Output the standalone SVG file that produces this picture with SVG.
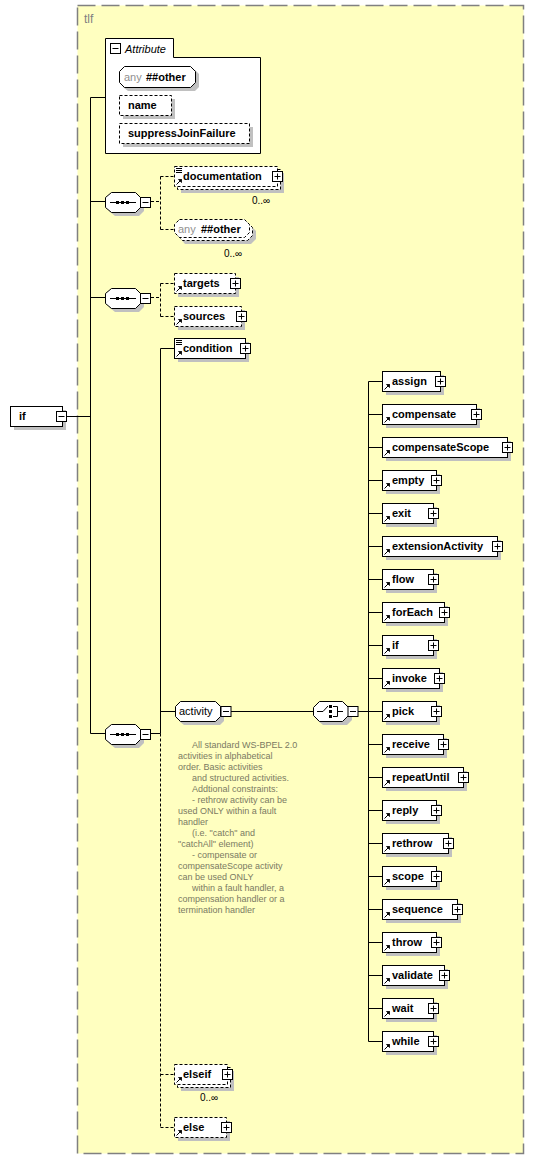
<svg xmlns="http://www.w3.org/2000/svg" width="534" height="1159" viewBox="0 0 534 1159">
<defs>
<style>
.bg{fill:#ffffc0;stroke:#808080;stroke-width:1.5;stroke-dasharray:18 6}
.box{fill:#fff;stroke:#000;stroke-width:1}
.opt{fill:#fff;stroke:#000;stroke-width:1;stroke-dasharray:3 2}
.sh{fill:#c0c0c0;stroke:none}
.ln{stroke:#000;stroke-width:1;fill:none}
.dl{stroke:#000;stroke-width:1;fill:none;stroke-dasharray:3 2}
.t{font-family:"Liberation Sans",Arial,sans-serif;font-size:11px;font-weight:bold;fill:#000}
.tn{font-family:"Liberation Sans",Arial,sans-serif;font-size:11px;fill:#000}
.g{font-family:"Liberation Sans",Arial,sans-serif;font-size:11px;fill:#909090}
.occ{font-family:"Liberation Sans",Arial,sans-serif;font-size:10px;fill:#000}
.ann{font-family:"Liberation Sans",Arial,sans-serif;font-size:9px;fill:#7a7a62}
.ttl{font-family:"Liberation Sans",Arial,sans-serif;font-size:12px;fill:#808080}
</style>
<g id="plus"><rect x="-5" y="-5" width="10" height="10" fill="#fff" stroke="#000"/><path d="M-3 0H3M0 -3V3" stroke="#000"/></g>
<g id="minus"><rect x="-5" y="-5" width="10" height="10" fill="#fff" stroke="#000"/><path d="M-3 0H3" stroke="#000"/></g>
<g id="arr"><path d="M0 0L5 -5" stroke="#000" stroke-width="1"/><path d="M2 -5H5V-2Z" fill="#000" stroke="#000" stroke-width="0.8"/></g>
<g id="doc"><path d="M0 0.5H6M0 2.5H6M0 4.5H6" stroke="#000" stroke-width="1"/></g>
</defs>
<rect class="bg" x="77.5" y="5.5" width="446" height="1148"/>
<text class="ttl" x="84" y="23">tlf</text>

<g id="connectors">
<path class="ln" d="M67 416.5H90.5M90.5 97.5V733.5M90.5 97.5H105M90.5 201.5H105M90.5 297.5H105M90.5 733.5H105"/>
<path class="dl" d="M151 201.5H160.5M160.5 176.5V229.5M160.5 176.5H174M160.5 229.5H174"/>
<path class="dl" d="M151 297.5H160.5M160.5 283.5V316.5M160.5 283.5H174M160.5 316.5H174"/>
<path class="ln" d="M151 733.5H160.5M160.5 348.5V733.5M160.5 348.5H174M160.5 711.5H175"/>
<path class="dl" d="M160.5 733.5V1127.5M160.5 1074.5H174M160.5 1127.5H174"/>
<path class="ln" d="M231 711.5H313M358 711.5H368.5M368.5 381.5V1041.5"/>
<path class="ln" d="M368.5 381.5H382M368.5 414.5H382M368.5 447.5H382M368.5 480.5H382M368.5 513.5H382M368.5 546.5H382M368.5 579.5H382M368.5 612.5H382M368.5 645.5H382M368.5 678.5H382M368.5 711.5H382M368.5 744.5H382M368.5 777.5H382M368.5 810.5H382M368.5 843.5H382M368.5 876.5H382M368.5 909.5H382M368.5 942.5H382M368.5 975.5H382M368.5 1008.5H382M368.5 1041.5H382"/>
</g>

<g id="node-if">
<rect class="sh" x="14" y="410" width="52" height="20"/>
<rect class="box" x="10.5" y="406.5" width="52" height="20"/>
<text class="t" x="19" y="420">if</text>
<use href="#minus" x="61.5" y="416.5"/>
</g>

<g id="node-attributes">
<path class="box" d="M105.5 153.5V38.5H173.5V57.5H260.5V153.5Z"/>
<use href="#minus" x="115.5" y="48.5"/>
<text x="125" y="53" style="font-family:'Liberation Sans',Arial,sans-serif;font-size:11px;font-style:italic">Attribute</text>
<path class="sh" d="M128 70H195L199 74V87L195 91H128L123 87V74Z"/>
<path class="box" d="M124.5 66.5H190.5L195.5 71.5V82.5L190.5 87.5H124.5L119.5 82.5V71.5Z"/>
<text class="g" x="124" y="81">any</text><text class="t" x="146" y="81">##other</text>
<rect class="sh" x="123" y="99" width="52" height="20"/>
<rect class="opt" x="119.5" y="95.5" width="52" height="20"/>
<text class="t" x="128" y="109">name</text>
<rect class="sh" x="123" y="127" width="130" height="20"/>
<rect class="opt" x="119.5" y="123.5" width="130" height="20"/>
<text class="t" x="128" y="137">suppressJoinFailure</text>
</g>

<g id="node-seq1">
<path class="sh" d="M115 196H139L144 201V211L139 216H115L109 211V201Z"/>
<path class="box" d="M111.5 192.5H135.5L140.5 197.5V207.5L135.5 212.5H111.5L105.5 207.5V197.5Z"/>
<path d="M110 202.5H136" stroke="#000"/><rect x="116" y="201" width="3" height="3"/><rect x="121" y="201" width="3" height="3"/><rect x="126" y="201" width="3" height="3"/>
<use href="#minus" x="145.5" y="202.5"/>
</g>
<g id="node-seq2">
<path class="sh" d="M115 292H139L144 297V307L139 312H115L109 307V297Z"/>
<path class="box" d="M111.5 288.5H135.5L140.5 293.5V303.5L135.5 308.5H111.5L105.5 303.5V293.5Z"/>
<path d="M110 298.5H136" stroke="#000"/><rect x="116" y="297" width="3" height="3"/><rect x="121" y="297" width="3" height="3"/><rect x="126" y="297" width="3" height="3"/>
<use href="#minus" x="145.5" y="298.5"/>
</g>
<g id="node-seq3">
<path class="sh" d="M115 728H139L144 733V743L139 748H115L109 743V733Z"/>
<path class="box" d="M111.5 724.5H135.5L140.5 729.5V739.5L135.5 744.5H111.5L105.5 739.5V729.5Z"/>
<path d="M110 734.5H136" stroke="#000"/><rect x="116" y="733" width="3" height="3"/><rect x="121" y="733" width="3" height="3"/><rect x="126" y="733" width="3" height="3"/>
<use href="#minus" x="145.5" y="734.5"/>
</g>

<g id="node-documentation">
<rect class="sh" x="181" y="173" width="103" height="20"/>
<rect class="opt" x="177.5" y="169.5" width="103" height="20"/>
<rect class="opt" x="174.5" y="166.5" width="103" height="20"/>
<use href="#doc" x="176" y="168"/>
<use href="#arr" x="176.5" y="184.5"/>
<text class="t" x="183" y="180">documentation</text>
<use href="#plus" x="277.5" y="176.5"/>
<text class="occ" x="252" y="204">0..∞</text>
</g>

<g id="node-any-other">
<path class="sh" d="M185 226H251L256 231V239L251 244H185L181 239V231Z"/>
<path class="opt" d="M182.5 222.5H247.5L252.5 227.5V235.5L247.5 240.5H182.5L177.5 235.5V227.5Z"/>
<path class="opt" d="M179.5 219.5H244.5L249.5 224.5V232.5L244.5 237.5H179.5L174.5 232.5V224.5Z"/>
<text class="g" x="178" y="233">any</text><text class="t" x="201" y="233">##other</text>
<text class="occ" x="224" y="257">0..∞</text>
</g>

<g id="node-targets">
<rect class="sh" x="178" y="277" width="61" height="20"/>
<rect class="opt" x="174.5" y="273.5" width="61" height="20"/>
<use href="#arr" x="176.5" y="291.5"/>
<text class="t" x="183" y="287">targets</text>
<use href="#plus" x="235.5" y="283.5"/>
</g>
<g id="node-sources">
<rect class="sh" x="178" y="310" width="67" height="20"/>
<rect class="opt" x="174.5" y="306.5" width="67" height="20"/>
<use href="#arr" x="176.5" y="324.5"/>
<text class="t" x="183" y="320">sources</text>
<use href="#plus" x="241.5" y="316.5"/>
</g>
<g id="node-condition">
<rect class="sh" x="178" y="342" width="71" height="20"/>
<rect class="box" x="174.5" y="338.5" width="71" height="20"/>
<use href="#doc" x="176" y="340"/>
<use href="#arr" x="176.5" y="356.5"/>
<text class="t" x="183" y="352">condition</text>
<use href="#plus" x="245.5" y="348.5"/>
</g>

<g id="node-activity">
<path class="sh" d="M184 705H220L224 709V721L220 725H184L179 721V709Z"/>
<path class="box" d="M180.5 701.5H215.5L220.5 706.5V716.5L215.5 721.5H180.5L175.5 716.5V706.5Z"/>
<text class="tn" x="179" y="715">activity</text>
<use href="#minus" x="226" y="711.5"/>
</g>
<g id="node-choice">
<path class="sh" d="M323 705H347L352 710V720L347 725H323L317 720V710Z"/>
<path class="box" d="M319.5 701.5H342.5L348.5 707.5V715.5L342.5 721.5H319.5L313.5 715.5V707.5Z"/>
<path d="M317 711.5H323L328 706M333 706.5H337.5V716.5H333M337.5 711.5H343" stroke="#000" fill="none"/>
<rect x="329" y="705" width="3" height="3"/><rect x="329" y="710" width="3" height="3"/><rect x="329" y="715" width="3" height="3"/>
<use href="#minus" x="353" y="711.5"/>
</g>

<g id="annotation" class="ann">
<text x="192" y="748">All standard WS-BPEL 2.0</text>
<text x="178" y="759">activities in alphabetical</text>
<text x="178" y="770">order. Basic activities</text>
<text x="192" y="781">and structured activities.</text>
<text x="192" y="792">Addtional constraints:</text>
<text x="192" y="803">- rethrow activity can be</text>
<text x="178" y="814">used ONLY within a fault</text>
<text x="178" y="825">handler</text>
<text x="192" y="836">(i.e. "catch" and</text>
<text x="178" y="847">"catchAll" element)</text>
<text x="192" y="858">- compensate or</text>
<text x="178" y="869">compensateScope activity</text>
<text x="178" y="880">can be used ONLY</text>
<text x="192" y="891">within a fault handler, a</text>
<text x="178" y="902">compensation handler or a</text>
<text x="178" y="913">termination handler</text>
</g>

<g id="node-elseif">
<rect class="sh" x="181" y="1071" width="53" height="20"/>
<rect class="opt" x="177.5" y="1067.5" width="53" height="20"/>
<rect class="opt" x="174.5" y="1064.5" width="53" height="20"/>
<use href="#arr" x="176.5" y="1082.5"/>
<text class="t" x="183" y="1078">elseif</text>
<use href="#plus" x="227.5" y="1074.5"/>
<text class="occ" x="200" y="1101">0..∞</text>
</g>
<g id="node-else">
<rect class="sh" x="178" y="1121" width="52" height="20"/>
<rect class="opt" x="174.5" y="1117.5" width="52" height="20"/>
<use href="#arr" x="176.5" y="1135.5"/>
<text class="t" x="183" y="1131">else</text>
<use href="#plus" x="226.5" y="1127.5"/>
</g>

<g id="node-assign"><rect class="sh" x="386" y="375" width="58" height="20"/><rect class="box" x="382.5" y="371.5" width="58" height="20"/><use href="#arr" x="384.5" y="389.5"/><text class="t" x="392" y="385">assign</text><use href="#plus" x="440.5" y="381.5"/></g>
<g id="node-compensate"><rect class="sh" x="386" y="408" width="94" height="20"/><rect class="box" x="382.5" y="404.5" width="94" height="20"/><use href="#arr" x="384.5" y="422.5"/><text class="t" x="392" y="418">compensate</text><use href="#plus" x="476.5" y="414.5"/></g>
<g id="node-compensateScope"><rect class="sh" x="386" y="441" width="125" height="20"/><rect class="box" x="382.5" y="437.5" width="125" height="20"/><use href="#arr" x="384.5" y="455.5"/><text class="t" x="392" y="451">compensateScope</text><use href="#plus" x="507.5" y="447.5"/></g>
<g id="node-empty"><rect class="sh" x="386" y="474" width="54" height="20"/><rect class="box" x="382.5" y="470.5" width="54" height="20"/><use href="#arr" x="384.5" y="488.5"/><text class="t" x="392" y="484">empty</text><use href="#plus" x="436.5" y="480.5"/></g>
<g id="node-exit"><rect class="sh" x="386" y="507" width="51" height="20"/><rect class="box" x="382.5" y="503.5" width="51" height="20"/><use href="#arr" x="384.5" y="521.5"/><text class="t" x="392" y="517">exit</text><use href="#plus" x="433.5" y="513.5"/></g>
<g id="node-extensionActivity"><rect class="sh" x="386" y="540" width="115" height="20"/><rect class="box" x="382.5" y="536.5" width="115" height="20"/><use href="#arr" x="384.5" y="554.5"/><text class="t" x="392" y="550">extensionActivity</text><use href="#plus" x="497.5" y="546.5"/></g>
<g id="node-flow"><rect class="sh" x="386" y="573" width="51" height="20"/><rect class="box" x="382.5" y="569.5" width="51" height="20"/><use href="#arr" x="384.5" y="587.5"/><text class="t" x="392" y="583">flow</text><use href="#plus" x="433.5" y="579.5"/></g>
<g id="node-forEach"><rect class="sh" x="386" y="606" width="62" height="20"/><rect class="box" x="382.5" y="602.5" width="62" height="20"/><use href="#arr" x="384.5" y="620.5"/><text class="t" x="392" y="616">forEach</text><use href="#plus" x="444.5" y="612.5"/></g>
<g id="node-if2"><rect class="sh" x="386" y="639" width="51" height="20"/><rect class="box" x="382.5" y="635.5" width="51" height="20"/><use href="#arr" x="384.5" y="653.5"/><text class="t" x="392" y="649">if</text><use href="#plus" x="433.5" y="645.5"/></g>
<g id="node-invoke"><rect class="sh" x="386" y="672" width="57" height="20"/><rect class="box" x="382.5" y="668.5" width="57" height="20"/><use href="#arr" x="384.5" y="686.5"/><text class="t" x="392" y="682">invoke</text><use href="#plus" x="439.5" y="678.5"/></g>
<g id="node-pick"><rect class="sh" x="386" y="705" width="54" height="20"/><rect class="box" x="382.5" y="701.5" width="54" height="20"/><use href="#arr" x="384.5" y="719.5"/><text class="t" x="392" y="715">pick</text><use href="#plus" x="436.5" y="711.5"/></g>
<g id="node-receive"><rect class="sh" x="386" y="738" width="61" height="20"/><rect class="box" x="382.5" y="734.5" width="61" height="20"/><use href="#arr" x="384.5" y="752.5"/><text class="t" x="392" y="748">receive</text><use href="#plus" x="443.5" y="744.5"/></g>
<g id="node-repeatUntil"><rect class="sh" x="386" y="771" width="81" height="20"/><rect class="box" x="382.5" y="767.5" width="81" height="20"/><use href="#arr" x="384.5" y="785.5"/><text class="t" x="392" y="781">repeatUntil</text><use href="#plus" x="463.5" y="777.5"/></g>
<g id="node-reply"><rect class="sh" x="386" y="804" width="54" height="20"/><rect class="box" x="382.5" y="800.5" width="54" height="20"/><use href="#arr" x="384.5" y="818.5"/><text class="t" x="392" y="814">reply</text><use href="#plus" x="436.5" y="810.5"/></g>
<g id="node-rethrow"><rect class="sh" x="386" y="837" width="66" height="20"/><rect class="box" x="382.5" y="833.5" width="66" height="20"/><use href="#arr" x="384.5" y="851.5"/><text class="t" x="392" y="847">rethrow</text><use href="#plus" x="448.5" y="843.5"/></g>
<g id="node-scope"><rect class="sh" x="386" y="870" width="54" height="20"/><rect class="box" x="382.5" y="866.5" width="54" height="20"/><use href="#arr" x="384.5" y="884.5"/><text class="t" x="392" y="880">scope</text><use href="#plus" x="436.5" y="876.5"/></g>
<g id="node-sequence"><rect class="sh" x="386" y="903" width="75" height="20"/><rect class="box" x="382.5" y="899.5" width="75" height="20"/><use href="#arr" x="384.5" y="917.5"/><text class="t" x="392" y="913">sequence</text><use href="#plus" x="457.5" y="909.5"/></g>
<g id="node-throw"><rect class="sh" x="386" y="936" width="54" height="20"/><rect class="box" x="382.5" y="932.5" width="54" height="20"/><use href="#arr" x="384.5" y="950.5"/><text class="t" x="392" y="946">throw</text><use href="#plus" x="436.5" y="942.5"/></g>
<g id="node-validate"><rect class="sh" x="386" y="969" width="62" height="20"/><rect class="box" x="382.5" y="965.5" width="62" height="20"/><use href="#arr" x="384.5" y="983.5"/><text class="t" x="392" y="979">validate</text><use href="#plus" x="444.5" y="975.5"/></g>
<g id="node-wait"><rect class="sh" x="386" y="1002" width="51" height="20"/><rect class="box" x="382.5" y="998.5" width="51" height="20"/><use href="#arr" x="384.5" y="1016.5"/><text class="t" x="392" y="1012">wait</text><use href="#plus" x="433.5" y="1008.5"/></g>
<g id="node-while"><rect class="sh" x="386" y="1035" width="51" height="20"/><rect class="box" x="382.5" y="1031.5" width="51" height="20"/><use href="#arr" x="384.5" y="1049.5"/><text class="t" x="392" y="1045">while</text><use href="#plus" x="433.5" y="1041.5"/></g>
</svg>
